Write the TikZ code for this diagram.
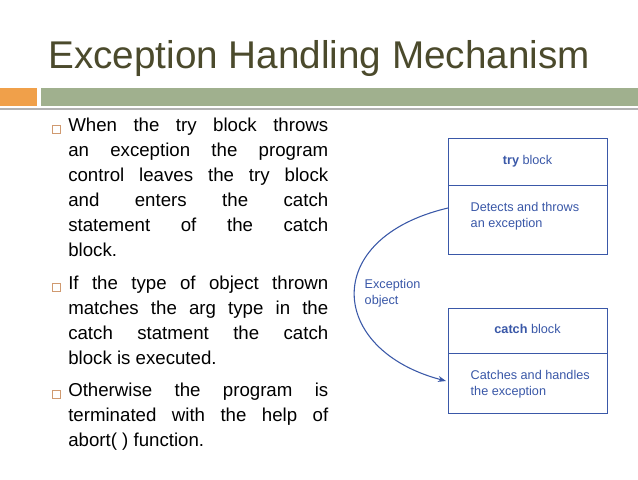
\documentclass[tikz,border=0pt]{standalone}
\usepackage{fontspec}
\setmainfont{Liberation Sans}
\usetikzlibrary{arrows.meta}
\definecolor{titlec}{HTML}{4B4A2C}
\definecolor{orangec}{HTML}{F0A04A}
\definecolor{greenc}{HTML}{A0B08E}
\definecolor{bluec}{HTML}{3A58A8}
\definecolor{bulc}{HTML}{D09A70}
\tikzset{
  px/.style={x=0.75pt,y=-0.75pt},
  blk/.style={draw=bluec,line width=0.7pt},
  btxt/.style={text=bluec,font=\fontsize{9.5}{12}\selectfont,anchor=west,align=left},
  para/.style={anchor=north west,inner sep=0pt,text width=195pt,align=justify,font=\fontsize{14}{18.75}\selectfont},
  bul/.style={draw=bulc,line width=0.5pt,minimum size=6pt,inner sep=0pt}
}
\begin{document}
\begin{tikzpicture}[px]
\useasboundingbox (0,0) rectangle (638,479);
\fill[white] (0,0) rectangle (638,479);
\node[anchor=base west,inner sep=0pt,text=titlec,font=\fontsize{29}{34}\selectfont] (title) at (48,68) {Exception Handling Mechanism};
\fill[orangec] (0,88) rectangle (37,106);
\fill[greenc] (41,88) rectangle (638,106);
\draw[gray!60,line width=1pt] (0,109) -- (638,109);
% bullets
\node[para] (p1) at (68,118) {When the try block throws\linebreak an exception the program\linebreak control leaves the try block\linebreak and enters the catch\linebreak statement of the catch\linebreak block.};
\node[para] (p2) at (68,276) {If the type of object thrown\linebreak matches the arg type in the\linebreak catch statment the catch\linebreak block is executed.};
\node[para] (p3) at (68,383) {Otherwise the program is\linebreak terminated with the help of\linebreak abort( ) function.};
\node[bul] (b1) at (56,129) {};
\node[bul] (b2) at (56,287) {};
\node[bul] (b3) at (56,394) {};
% diagram
\draw[blk] (448,138) rectangle (607,254);
\draw[blk] (448,185) -- (607,185);
\draw[blk] (448,308) rectangle (607,413);
\draw[blk] (448,353) -- (607,353);
\node[text=bluec,font=\fontsize{9.5}{12}\selectfont] (try) at (527.5,161) {\textbf{try} block};
\node[text=bluec,font=\fontsize{9.5}{12}\selectfont] (catch) at (527.5,329) {\textbf{catch} block};
\node[btxt] (det) at (466,216) {Detects and throws\\an exception};
\node[btxt] (cat) at (466,384) {Catches and handles\\the exception};
\node[btxt] (exc) at (360,293) {Exception\\object};
\coordinate (s) at (448,208);
\coordinate (e) at (446,381);
\draw[bluec,line width=0.8pt,-{Stealth[length=6pt]}] (s) .. controls (320,238) and (328,350) .. (e);
\end{tikzpicture}
\end{document}
